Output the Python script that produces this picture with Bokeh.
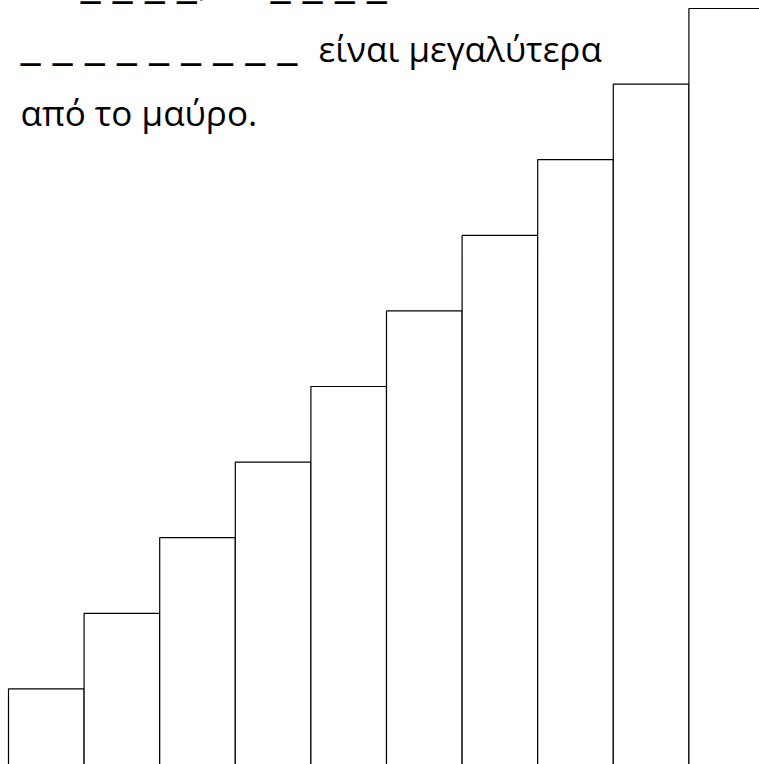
from bokeh.plotting import figure
from bokeh.models import Range1d, Label
from bokeh.embed import file_html
from bokeh.resources import INLINE

# data
steps = [1, 2, 3, 4, 5, 6, 7, 8, 9, 10]
heights = [1, 2, 3, 4, 5, 6, 7, 8, 9, 10]
blank_a = "_ _ _ _"
comma_a = ","
blank_b = "_ _ _ _"
blank_c = "_ _ _ _ _ _ _ _ _"
words_c = "είναι μεγαλύτερα"
words_d = "από το μαύρο."

W, H = 759, 764
unit = (H - 8) / 10.0
x0 = -8 / unit

p = figure(width=W, height=H, output_backend="svg", toolbar_location=None,
           x_range=Range1d(x0, x0 + W / unit), y_range=Range1d(0, H / unit),
           min_border=0, min_border_left=0, min_border_right=0,
           min_border_top=0, min_border_bottom=0)
p.axis.visible = False
p.grid.visible = False
p.outline_line_color = None
p.background_fill_color = "white"
p.border_fill_color = "white"

lefts = [s - 1 for s in steps]
rights = [s for s in steps]
bottoms = [-1] * len(steps)
p.quad(left=lefts, right=rights, bottom=bottoms, top=heights,
       fill_color="white", line_color="black", line_width=1.2)

font = "Open Sans"
off = 13
def lab(t, x, base, size):
    p.add_layout(Label(x=x, y=H - (base - off), x_units="screen", y_units="screen",
                       text=t, text_font=font, text_font_size=size,
                       text_color="black", text_baseline="alphabetic"))

lab(blank_a, 80, -9, "46px")
lab(comma_a, 198, -3, "35px")
lab(blank_b, 270, -9, "46px")
lab(blank_c, 20, 53, "46px")
lab(words_c, 318, 61, "35px")
lab(words_d, 20, 125, "35px")

open("out.html", "w").write(file_html(p, INLINE))
